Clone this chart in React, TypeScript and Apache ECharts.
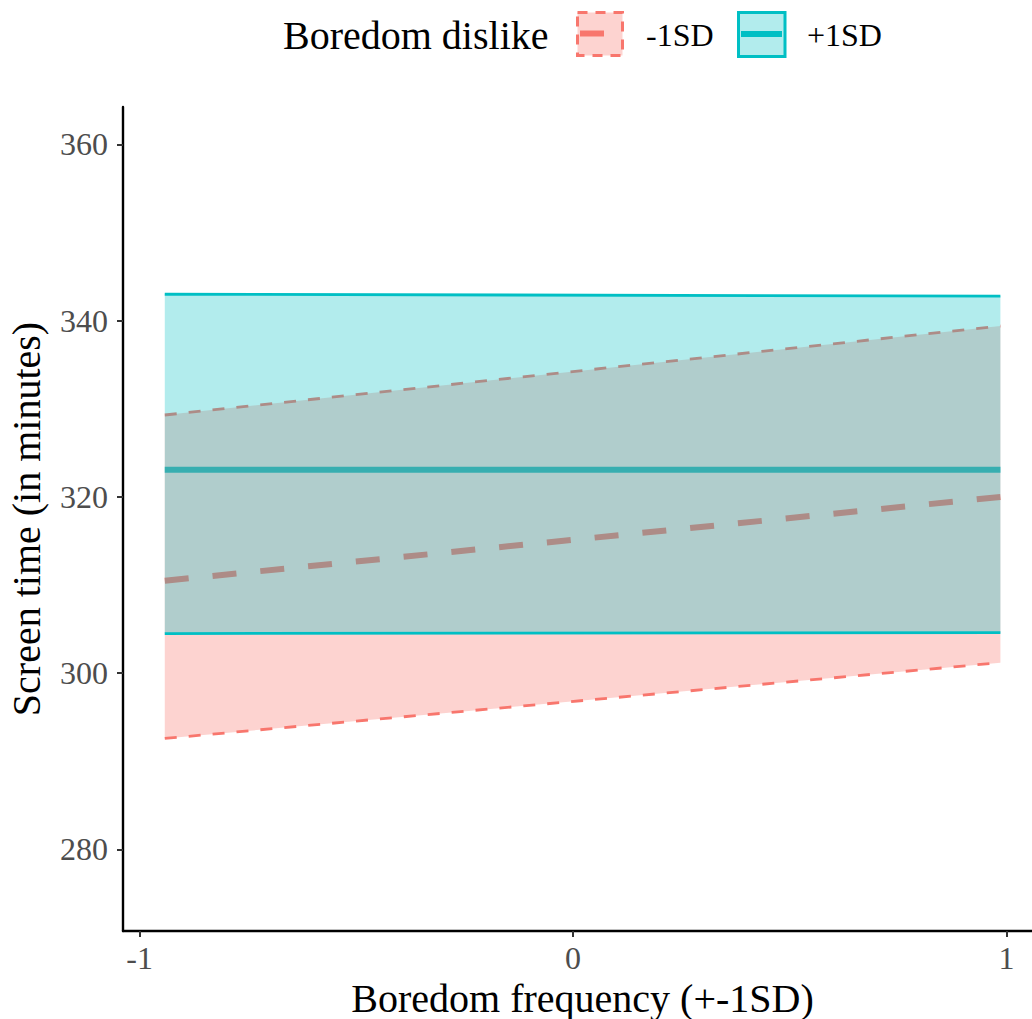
import React, { useEffect, useRef } from "react";
import * as echarts from "echarts";

// Data
const xValues = [-0.942, 0.986];
const minusMean = [310.5, 320.0];
const minusLower = [292.6, 301.2];
const minusUpper = [329.3, 339.4];
const plusMean = [323.1, 323.1];
const plusLower = [304.5, 304.6];
const plusUpper = [343.0, 342.8];

const xTicks = [-1, 0, 1];
const yTicks = [280, 300, 320, 340, 360];

const PINK = "#F8766D";
const TEAL = "#00BFC4";
const FONT = "'Liberation Serif', 'Times New Roman', serif";

const pairs = (ys: number[]) => xValues.map((x, i) => [x, ys[i]]);
const bandData = (lo: number[], hi: number[]) =>
  xValues.map((x, i) => [x, lo[i], hi[i]]);

const bandSeries = (
  name: string,
  lo: number[],
  hi: number[],
  fill: string,
  z: number
) => ({
  type: "custom",
  name,
  z,
  data: bandData(lo, hi),
  silent: true,
  renderItem: (params: any, api: any) => {
    const i = params.dataIndex;
    if (i >= xValues.length - 1) return null;
    const p1 = api.coord([xValues[i], lo[i]]);
    const p2 = api.coord([xValues[i + 1], lo[i + 1]]);
    const p3 = api.coord([xValues[i + 1], hi[i + 1]]);
    const p4 = api.coord([xValues[i], hi[i]]);
    return {
      type: "polygon",
      shape: { points: [p1, p2, p3, p4] },
      style: { fill, stroke: "none" },
    };
  },
});

const lineSeries = (
  name: string,
  ys: number[],
  color: string,
  width: number,
  dash: any,
  z: number
) => ({
  type: "line",
  name,
  z,
  data: pairs(ys),
  showSymbol: false,
  symbol: "none",
  silent: true,
  lineStyle: { color, width, type: dash, cap: "butt" },
});

export default function App() {
  const ref = useRef<HTMLDivElement>(null);
  useEffect(() => {
    if (!ref.current) return;
    const chart = echarts.init(ref.current, undefined, { renderer: "svg" });
    chart.setOption({
      animation: false,
      backgroundColor: "#fff",
      grid: {
        left: 123,
        right: -10,
        top: 107,
        bottom: 88,
        containLabel: false,
        outerBoundsMode: "none",
      },
      xAxis: {
        type: "value",
        min: -1.0384,
        max: 1.082,
        name: "Boredom frequency (+-1SD)",
        nameLocation: "middle",
        nameGap: 45,
        nameTextStyle: { fontFamily: FONT, fontSize: 40, color: "#000" },
        axisLine: {
          show: true,
          onZero: false,
          lineStyle: { color: "#000", width: 2.4 },
        },
        axisTick: {
          show: true,
          length: 6,
          customValues: xTicks,
          lineStyle: { color: "#333", width: 2 },
        },
        axisLabel: {
          customValues: xTicks,
          fontFamily: FONT,
          fontSize: 32,
          color: "#4D4D4D",
          margin: 11,
        },
        splitLine: { show: false },
      },
      yAxis: {
        type: "value",
        min: 270.75,
        max: 364.25,
        name: "Screen time (in minutes)",
        nameLocation: "middle",
        nameGap: 77,
        nameRotate: 90,
        nameTextStyle: { fontFamily: FONT, fontSize: 40, color: "#000" },
        axisLine: {
          show: true,
          onZero: false,
          lineStyle: { color: "#000", width: 2.4 },
        },
        axisTick: {
          show: true,
          length: 6,
          customValues: yTicks,
          lineStyle: { color: "#333", width: 2 },
        },
        axisLabel: {
          customValues: yTicks,
          fontFamily: FONT,
          fontSize: 32,
          color: "#4D4D4D",
          margin: 15,
        },
        splitLine: { show: false },
      },
      series: [
        lineSeries("-1SD mean", minusMean, PINK, 6, [24, 24], 1),
        lineSeries("+1SD mean", plusMean, TEAL, 6, "solid", 1),
        bandSeries("-1SD band", minusLower, minusUpper, "rgba(248,118,109,0.32)", 2),
        lineSeries("-1SD lower", minusLower, PINK, 2.8, [12, 12], 3),
        lineSeries("-1SD upper", minusUpper, PINK, 2.8, [12, 12], 3),
        bandSeries("+1SD band", plusLower, plusUpper, "rgba(0,191,196,0.3)", 4),
        lineSeries("+1SD lower", plusLower, TEAL, 2.8, "solid", 5),
        lineSeries("+1SD upper", plusUpper, TEAL, 2.8, "solid", 5),
      ],
      graphic: [
        {
          type: "text",
          x: 283,
          y: 35.8,
          style: {
            text: "Boredom dislike",
            fontFamily: FONT,
            fontSize: 40,
            fill: "#000",
            align: "left",
            verticalAlign: "middle",
          },
        },
        {
          type: "rect",
          shape: { x: 577.5, y: 12.5, width: 45, height: 43 },
          style: {
            fill: "rgba(248,118,109,0.32)",
            stroke: PINK,
            lineWidth: 3,
            lineDash: [10, 8],
          },
        },
        {
          type: "line",
          shape: { x1: 580, y1: 33.5, x2: 620, y2: 33.5 },
          style: { stroke: PINK, lineWidth: 6, lineDash: [24, 24] },
        },
        {
          type: "text",
          x: 646,
          y: 35.2,
          style: {
            text: "-1SD",
            fontFamily: FONT,
            fontSize: 32,
            fill: "#000",
            align: "left",
            verticalAlign: "middle",
          },
        },
        {
          type: "rect",
          shape: { x: 738.5, y: 12.5, width: 46.5, height: 44 },
          style: {
            fill: "rgba(0,191,196,0.3)",
            stroke: TEAL,
            lineWidth: 3,
          },
        },
        {
          type: "line",
          shape: { x1: 741, y1: 34, x2: 782, y2: 34 },
          style: { stroke: TEAL, lineWidth: 6 },
        },
        {
          type: "text",
          x: 807,
          y: 35.2,
          style: {
            text: "+1SD",
            fontFamily: FONT,
            fontSize: 32,
            fill: "#000",
            align: "left",
            verticalAlign: "middle",
          },
        },
      ],
    });
    return () => chart.dispose();
  }, []);
  return (
    <div
      ref={ref}
      style={{
        position: "fixed",
        left: 0,
        top: 0,
        width: 1032,
        height: 1019,
        background: "#fff",
      }}
    />
  );
}
